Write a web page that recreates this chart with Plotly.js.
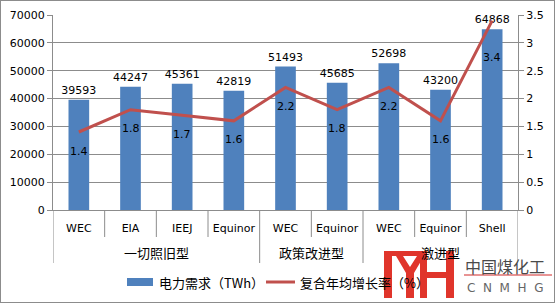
<!DOCTYPE html>
<html><head><meta charset="utf-8">
<script src="https://cdn.plot.ly/plotly-3.0.1.min.js"></script>
<style>html,body{margin:0;padding:0;background:#fff}#wrap{width:553px;height:301px;border:1px solid #8c8c8c;overflow:hidden}</style>
</head><body><div id="wrap"><div id="chart"></div></div>
<script>
const groups = ["一切照旧型","一切照旧型","一切照旧型","一切照旧型","政策改进型","政策改进型","激进型","激进型","激进型"];
const sources = ["WEC","EIA","IEEJ","Equinor","WEC","Equinor","WEC","Equinor","Shell"];
const demand = [39593,44247,45361,42819,51493,45685,52698,43200,64868];
const cagr = [1.4,1.8,1.7,1.6,2.2,1.8,2.2,1.6,3.4];
const legendNames = ["电力需求（TWh）","复合年均增长率（%）"];

const W=553,H=301, L=52, R=517, T=14, B=209;
const px = v => (v-L)/(R-L);
const py = v => (B-v)/(B-T);
const idx = sources.map((_,i)=>i);
const BLUE="#4F81BD", RED="#C0504D";
const CJK = "Noto Sans CJK SC, DejaVu Sans, sans-serif";

const traces = [
 {type:'bar', x:idx, y:demand, marker:{color:BLUE}, width:0.4, name:legendNames[0],
  text:demand.map(String), textposition:'outside', cliponaxis:false, constraintext:'none',
  textfont:{family:"DejaVu Sans", size:11, color:"#000"}, hoverinfo:'none', showlegend:false},
 {type:'scatter', mode:'lines', x:idx, y:cagr, yaxis:'y2', line:{color:RED, width:3}, name:legendNames[1], showlegend:false, hoverinfo:'none'}
];

const annotations = [];
cagr.forEach((v,i)=>{
  annotations.push({x:i, y:v, yref:'y2', xref:'x', text:v.toFixed(1), showarrow:false,
    yshift: i===cagr.length-1 ? -37 : -19, font:{family:"DejaVu Sans", size:11, color:"#000"}});
});
const shapes = [];
const gNames=[]; const gStart=[];
groups.forEach((g,i)=>{ if(i===0||groups[i-1]!==g){gNames.push(g); gStart.push(i);} });
gStart.forEach((s,k)=>{
  const e = k+1<gStart.length ? gStart[k+1]-1 : groups.length-1;
  annotations.push({x:(s+e)/2, xref:'x', xanchor:'center', y:py(251), yref:'paper', text:gNames[k], showarrow:false,
    font:{family:CJK, size:13, color:"#000"}, yanchor:'middle'});
});
for(let i=0;i<=groups.length;i++){
  const isGroup = i===0 || i===groups.length || groups[i]!==groups[i-1];
  shapes.push({type:'line', xref:'x', x0:i-0.5, x1:i-0.5, yref:'paper', y0:0, y1:py(isGroup?262:236), line:{color:'#8c8c8c', width:1}});
}
// legend
shapes.push({type:'rect', xref:'paper', yref:'paper', x0:px(126), x1:px(152), y0:py(285), y1:py(277), fillcolor:BLUE, line:{width:0}});
shapes.push({type:'line', xref:'paper', yref:'paper', x0:px(265), x1:px(294), y0:py(281), y1:py(281), line:{color:RED, width:3}});
annotations.push({xref:'paper', yref:'paper', x:px(156), y:py(281), xanchor:'left', yanchor:'middle', text:legendNames[0], showarrow:false, font:{family:CJK, size:13, color:'#000'}});
annotations.push({xref:'paper', yref:'paper', x:px(297), y:py(281), xanchor:'left', yanchor:'middle', text:legendNames[1], showarrow:false, font:{family:CJK, size:13, color:'#000'}});
// watermark
const poly = pts => 'M'+pts.map(p=>px(p[0])+','+py(p[1])).join(' L')+' Z';
const wm = {type:'path', xref:'paper', yref:'paper', fillcolor:'#E0352B', line:{width:0}, layer:'above'};
shapes.push(Object.assign({}, wm, {path:poly([[383,250],[391,250],[391,297],[383,297]])}));
shapes.push(Object.assign({}, wm, {path:poly([[383,250],[426,250],[426,255],[383,255]])}));
shapes.push(Object.assign({}, wm, {path:poly([[395,255],[402,255],[409,266],[416,255],[423,255],[413,272],[413,297],[405,297],[405,272]])}));
shapes.push(Object.assign({}, wm, {path:poly([[419,255],[426,255],[426,297],[419,297]])}));
shapes.push(Object.assign({}, wm, {path:poly([[445,250],[453,250],[453,297],[445,297]])}));
shapes.push(Object.assign({}, wm, {path:poly([[419,271],[453,271],[453,277],[419,277]])}));
shapes.push({type:'line', xref:'paper', yref:'paper', x0:px(463), x1:px(551), y0:py(274), y1:py(274), line:{color:'#E07070', width:1.5}});
annotations.push({xref:'paper', yref:'paper', x:px(462), xanchor:'left', y:py(265), yanchor:'middle', text:'中国煤化工', showarrow:false, font:{family:CJK, size:16, color:'#4a4a4a'}});
annotations.push({xref:'paper', yref:'paper', x:px(464), xanchor:'left', y:py(287), yanchor:'middle', text:'C&nbsp;&nbsp;N&nbsp;&nbsp;M&nbsp;&nbsp;H&nbsp;&nbsp;G', showarrow:false, font:{family:"DejaVu Sans", size:12, color:'#666'}});

const layout = {
 width:W, height:H, margin:{l:L, r:W-R, t:T, b:H-B}, paper_bgcolor:'#fff', plot_bgcolor:'#fff',
 showlegend:false, font:{family:"DejaVu Sans", size:11, color:'#000'},
 xaxis:{range:[-0.5, sources.length-0.5], tickvals:idx, ticktext:sources, ticks:'', showgrid:false,
   showline:true, linecolor:'#8c8c8c', linewidth:1, zeroline:false, fixedrange:true,
   tickfont:{family:"DejaVu Sans", size:11, color:'#000'}, ticklabelstandoff:8},
 yaxis:{range:[0,70000], dtick:10000, tickformat:'d', showgrid:true, gridcolor:'#8c8c8c', gridwidth:1,
   showline:true, linecolor:'#8c8c8c', ticks:'outside', ticklen:5, tickcolor:'#8c8c8c', zeroline:false,
   tickfont:{family:"DejaVu Sans", size:11, color:'#000'}},
 yaxis2:{range:[0,3.5], dtick:0.5, overlaying:'y', side:'right', showgrid:false, showline:true, linecolor:'#8c8c8c',
   ticks:'outside', ticklen:5, tickcolor:'#8c8c8c', zeroline:false,
   tickfont:{family:"DejaVu Sans", size:11, color:'#000'}},
 annotations, shapes
};
Plotly.newPlot('chart', traces, layout, {staticPlot:true, displayModeBar:false});
</script></body></html>
